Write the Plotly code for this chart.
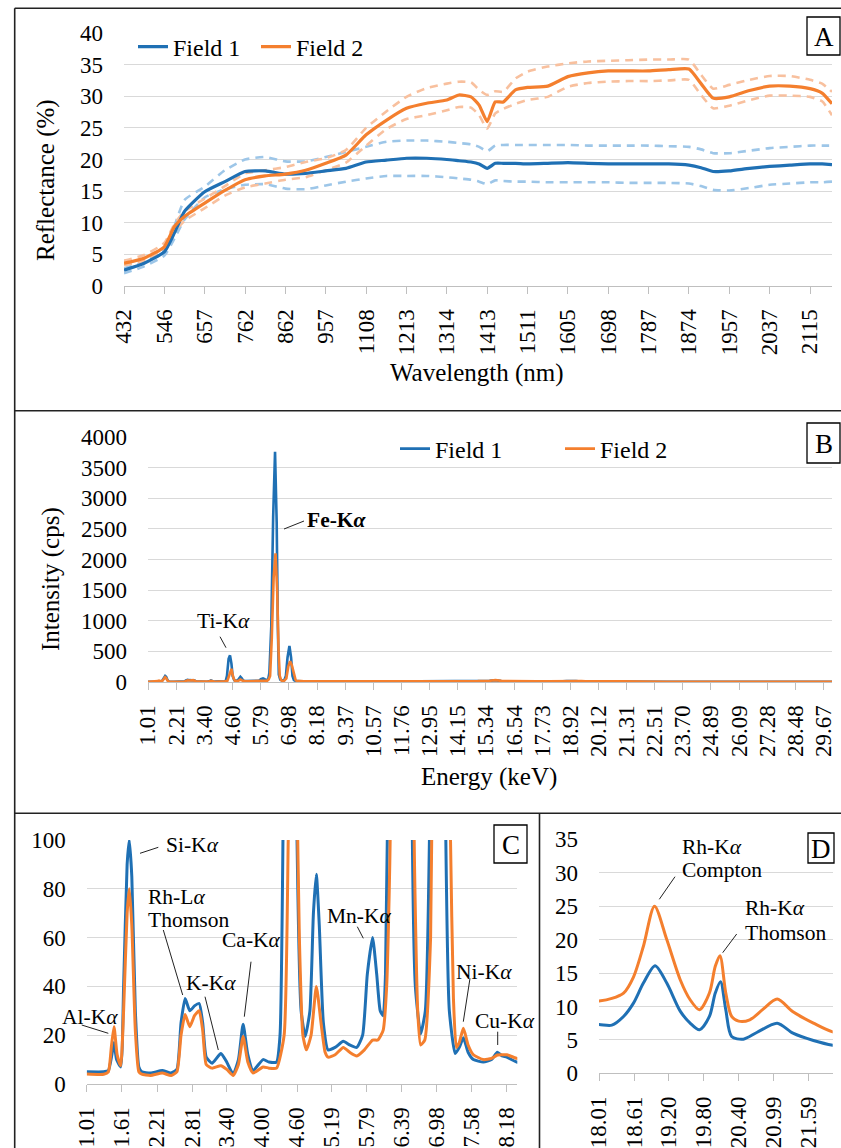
import plotly.graph_objects as go

W, H = 841, 1148
FONT = "Liberation Serif"
BLUE = "#1F70B4"
ORANGE = "#F47F2E"
LBLUE = "#9DC6E8"
LORANGE = "#F8C09E"
GRID = "#D9D9D9"
AXIS = "#BFBFBF"

# ---------------- Panel A : reflectance spectra ----------------
a_tick_labels = ["432", "546", "657", "762", "862", "957", "1108", "1213", "1314",
                 "1413", "1511", "1605", "1698", "1787", "1874", "1957", "2037", "2115"]
a_pos = [0, 0.5, 1, 1.25, 1.5, 2, 2.5, 3, 3.5, 4, 4.5, 5, 5.5, 6, 6.5, 7, 7.5, 8, 8.3,
         8.6, 8.8, 9, 9.2, 9.4, 9.7, 10, 10.5, 11, 11.5, 12, 12.5, 13, 13.5, 14, 14.3,
         14.6, 15, 15.5, 16, 16.5, 17, 17.3, 17.545]
a_field1 = [2.5, 3.6, 5.4, 8.4, 11.8, 14.9, 16.5, 18.1, 18.2, 17.7, 17.8, 18.2, 18.6, 19.6,
            19.9, 20.2, 20.2, 20.0, 19.8, 19.6, 19.3, 18.6, 19.4, 19.4, 19.4, 19.3, 19.4,
            19.5, 19.4, 19.3, 19.3, 19.3, 19.3, 19.1, 18.7, 18.1, 18.2, 18.6, 18.9, 19.1,
            19.3, 19.3, 19.2]
a_field1_hi = [2.8, 3.8, 5.8, 9.5, 13.6, 15.7, 18.3, 20.0, 20.4, 19.7, 19.7, 20.4, 21.2,
               22.0, 22.8, 23.0, 23.0, 22.8, 22.6, 22.4, 22.0, 21.3, 22.2, 22.3, 22.3, 22.3,
               22.3, 22.3, 22.2, 22.2, 22.2, 22.2, 22.1, 22.0, 21.6, 21.0, 21.0, 21.4, 21.8,
               22.0, 22.2, 22.2, 22.2]
a_field1_lo = [2.0, 3.1, 4.8, 7.5, 10.5, 14.0, 15.3, 16.0, 16.1, 15.4, 15.3, 15.9, 16.5,
               17.0, 17.4, 17.4, 17.4, 17.2, 17.0, 16.8, 16.5, 16.1, 16.7, 16.6, 16.5, 16.5,
               16.4, 16.4, 16.4, 16.4, 16.3, 16.3, 16.3, 16.2, 15.8, 15.2, 15.1, 15.5, 16.0,
               16.2, 16.4, 16.4, 16.5]
a_field2 = [3.6, 4.4, 6.2, 9.4, 11.0, 13.1, 15.1, 16.8, 17.4, 17.7, 18.3, 19.4, 20.7, 23.9,
            26.2, 28.1, 28.9, 29.4, 30.2, 29.9, 28.6, 26.0, 29.1, 29.1, 31.0, 31.4, 31.6,
            33.1, 33.7, 34.0, 34.0, 34.0, 34.2, 34.3, 32.0, 29.7, 29.9, 30.9, 31.6, 31.6,
            31.2, 30.5, 28.8]
a_field2_hi = [4.0, 4.9, 6.8, 9.8, 11.8, 13.8, 15.8, 17.8, 18.3, 18.8, 19.6, 20.2, 21.5,
               25.0, 27.6, 29.9, 31.3, 32.0, 32.3, 32.2, 31.0, 30.2, 30.8, 30.7, 32.8, 33.9,
               34.7, 35.2, 35.5, 35.6, 35.7, 35.8, 35.8, 35.8, 33.4, 31.2, 31.8, 32.6, 33.2,
               33.2, 32.6, 32.0, 30.7]
a_field2_lo = [3.3, 4.0, 5.8, 8.5, 10.3, 12.3, 14.3, 15.6, 16.2, 16.8, 17.2, 18.3, 19.5,
               22.2, 24.8, 26.4, 27.0, 27.8, 28.3, 28.2, 27.0, 24.9, 27.3, 28.0, 28.8, 29.4,
               29.9, 31.5, 32.1, 32.3, 32.4, 32.4, 32.5, 32.6, 30.2, 28.1, 28.5, 29.4, 30.1,
               30.1, 29.9, 29.2, 27.0]

# ---------------- XRF spectra (panels B, C, D) ----------------
xrf_e1 = [1.01, 1.30, 1.38, 1.44, 1.476, 1.52, 1.59, 1.64, 1.70, 1.737, 1.78, 1.84, 1.90,
          1.95, 2.10, 2.30, 2.45, 2.55, 2.62, 2.69, 2.77, 2.85, 2.93, 2.99, 3.05, 3.15, 3.30,
          3.40, 3.51, 3.60, 3.68, 3.76, 3.85, 4.02, 4.12, 4.25, 4.31, 4.36, 4.43, 4.49, 4.55,
          4.60, 4.67, 4.74, 4.82, 4.88, 4.93, 4.98, 5.05, 5.13, 5.25, 5.39, 5.50, 5.62, 5.72,
          5.80, 5.89, 5.96, 6.02, 6.07, 6.11, 6.16, 6.24, 6.32, 6.40, 6.47, 6.52, 6.56, 6.62,
          6.71, 6.79, 6.86, 6.93, 7.01, 7.08, 7.14, 7.20, 7.30, 7.37, 7.44, 7.52, 7.61, 7.78,
          7.92, 8.02, 8.10, 8.18, 8.35, 9.0, 10.0, 11.0, 12.0, 13.0, 14.0, 15.0, 15.5, 15.75,
          16.0, 16.5, 17.0, 17.5, 18.01, 18.23, 18.43, 18.60, 18.77, 18.97, 19.17, 19.40,
          19.57, 19.73, 19.90, 20.00, 20.09, 20.18, 20.28, 20.48, 20.71, 21.06, 21.33, 21.68,
          22.01, 23.0, 24.5, 26.0, 28.0, 30.03]
xrf_field1 = [5.0, 5.0, 5.5, 12, 17, 10, 7, 40, 90, 100, 85, 30, 7, 5, 4.5, 5.5, 4.5, 6, 25,
              35, 30, 32, 33, 25, 11, 8.5, 12.5, 9, 4, 10, 24.5, 12, 5.5, 10, 9, 9, 20, 100,
              380, 435, 300, 100, 30, 19.5, 30, 70, 86, 65, 25, 14, 15, 17.5, 16, 15, 20, 45,
              60, 45, 30, 28, 45, 150, 900, 2700, 3760, 2600, 900, 120, 40, 20.5, 30, 100, 400,
              590, 400, 100, 30, 12.5, 15, 19, 13, 10, 9, 10, 13, 11.5, 11, 9, 8, 7, 7, 7, 8, 9,
              12, 18, 28, 15, 10, 8, 7.5, 7.3, 7.2, 8.5, 10.5, 13.5, 16.1, 13.5, 9.3, 7.5, 6.5,
              8.5, 12.0, 13.7, 9.5, 5.5, 5.1, 6.1, 7.5, 6.0, 4.9, 4.2, 3.5, 3.0, 2.5, 2.0, 2.0]
xrf_e2 = [1.01, 1.30, 1.38, 1.43, 1.476, 1.53, 1.59, 1.64, 1.70, 1.737, 1.78, 1.84, 1.90,
          1.95, 2.10, 2.30, 2.45, 2.55, 2.62, 2.69, 2.77, 2.85, 2.93, 2.99, 3.05, 3.15, 3.30,
          3.40, 3.51, 3.60, 3.68, 3.76, 3.85, 4.02, 4.12, 4.25, 4.38, 4.45, 4.50, 4.55, 4.60,
          4.64, 4.70, 4.76, 4.84, 4.93, 5.01, 5.08, 5.13, 5.25, 5.39, 5.50, 5.62, 5.75, 5.89,
          5.98, 6.07, 6.13, 6.19, 6.26, 6.34, 6.42, 6.49, 6.55, 6.60, 6.66, 6.71, 6.78, 6.88,
          6.96, 7.04, 7.11, 7.16, 7.22, 7.27, 7.32, 7.37, 7.44, 7.52, 7.61, 7.78, 7.92, 8.02,
          8.10, 8.18, 8.35, 9.0, 10.0, 11.0, 12.0, 13.0, 14.0, 15.0, 15.5, 15.75, 16.0, 16.5,
          17.0, 17.5, 18.01, 18.23, 18.43, 18.60, 18.77, 18.96, 19.17, 19.40, 19.57, 19.73,
          19.90, 20.00, 20.08, 20.18, 20.28, 20.40, 20.59, 20.82, 21.06, 21.33, 21.68, 22.01,
          23.0, 24.5, 26.0, 28.0, 30.03]
xrf_field2 = [4.1, 4.0, 5, 15, 23.5, 12, 7.5, 30, 70, 80, 65, 22, 5, 4, 3.5, 4.5, 3.5, 5, 20,
              28.5, 23.5, 28, 30, 22, 8, 6.5, 7.5, 6, 3.5, 8, 19.5, 9, 4.5, 7, 6.5, 6.5, 20, 100,
              190, 215, 120, 60, 20, 14, 20, 40, 25, 13, 11, 12, 15, 13, 11.5, 14, 18, 18, 22,
              40, 100, 700, 1700, 2100, 1500, 500, 100, 30, 16, 18, 60, 250, 340, 280, 200, 100,
              35, 15, 17, 22.8, 16, 12, 10, 10.5, 11.9, 12, 12, 10.5, 9.5, 9, 9, 9, 10, 11, 14,
              20, 30, 18, 13, 11, 10.5, 10.8, 11.2, 12.0, 14.4, 19.0, 25.0, 20.0, 14.0, 11.0,
              9.5, 12.0, 16.0, 17.6, 12.0, 8.5, 7.8, 8.0, 9.6, 11.1, 9.2, 7.5, 6.2, 5.0, 4.0,
              3.0, 2.5, 2.3]

b_tick_labels = ["1.01", "2.21", "3.40", "4.60", "5.79", "6.98", "8.18", "9.37", "10.57",
                 "11.76", "12.95", "14.15", "15.34", "16.54", "17.73", "18.92", "20.12",
                 "21.31", "22.51", "23.70", "24.89", "26.09", "27.28", "28.48", "29.67"]
c_tick_labels = ["1.01", "1.61", "2.21", "2.81", "3.40", "4.00", "4.60", "5.19", "5.79",
                 "6.39", "6.98", "7.58", "8.18"]
d_tick_labels = ["18.01", "18.61", "19.20", "19.80", "20.40", "20.99", "21.59"]


def fx(p):
    return p / W


def fy(p):
    return 1 - p / H


fig = go.Figure()

# Panel A traces
for ys, col in [(a_field1_hi, LBLUE), (a_field1_lo, LBLUE), (a_field2_hi, LORANGE), (a_field2_lo, LORANGE)]:
    fig.add_trace(go.Scatter(x=a_pos, y=ys, mode="lines", showlegend=False, hoverinfo="skip",
                             line=dict(color=col, width=2.6, dash="8px,6px", shape="spline", smoothing=0.5),
                             xaxis="x", yaxis="y"))
fig.add_trace(go.Scatter(x=a_pos, y=a_field1, mode="lines", name="Field 1", legend="legend",
                         line=dict(color=BLUE, width=3.2, shape="spline", smoothing=0.5),
                         xaxis="x", yaxis="y"))
fig.add_trace(go.Scatter(x=a_pos, y=a_field2, mode="lines", name="Field 2", legend="legend",
                         line=dict(color=ORANGE, width=3.2, shape="spline", smoothing=0.5),
                         xaxis="x", yaxis="y"))

# Panel B
fig.add_trace(go.Scatter(x=xrf_e1, y=xrf_field1, mode="lines", name="Field 1", legend="legend2",
                         line=dict(color=BLUE, width=2.6), xaxis="x2", yaxis="y2"))
fig.add_trace(go.Scatter(x=xrf_e2, y=xrf_field2, mode="lines", name="Field 2", legend="legend2",
                         line=dict(color=ORANGE, width=2.6), xaxis="x2", yaxis="y2"))
# Panel C
fig.add_trace(go.Scatter(x=xrf_e1, y=xrf_field1, mode="lines", showlegend=False,
                         line=dict(color=BLUE, width=3, shape="spline", smoothing=0.5),
                         xaxis="x3", yaxis="y3"))
fig.add_trace(go.Scatter(x=xrf_e2, y=xrf_field2, mode="lines", showlegend=False,
                         line=dict(color=ORANGE, width=3, shape="spline", smoothing=0.5),
                         xaxis="x3", yaxis="y3"))
# Panel D
fig.add_trace(go.Scatter(x=xrf_e1, y=xrf_field1, mode="lines", showlegend=False,
                         line=dict(color=BLUE, width=3, shape="spline", smoothing=0.8),
                         xaxis="x4", yaxis="y4"))
fig.add_trace(go.Scatter(x=xrf_e2, y=xrf_field2, mode="lines", showlegend=False,
                         line=dict(color=ORANGE, width=3, shape="spline", smoothing=0.8),
                         xaxis="x4", yaxis="y4"))

tickfont = dict(family=FONT, size=23, color="#000")


def xax(dom, rng, vals, texts, anchor):
    return dict(domain=[fx(dom[0]), fx(dom[1])], range=rng, anchor=anchor, automargin=False,
                tickmode="array", tickvals=vals, ticktext=texts, tickangle=-90,
                showline=True, linecolor=AXIS, linewidth=1, ticks="outside", ticklen=7,
                tickcolor=AXIS, tickwidth=1, showgrid=False, zeroline=False,
                tickfont=tickfont, ticklabelstandoff=6, fixedrange=True)


def yax(dom, rng, dtick, anchor):
    return dict(domain=[fy(dom[1]), fy(dom[0])], range=rng, anchor=anchor, dtick=dtick,
                automargin=False, tick0=0, showgrid=True, gridcolor=GRID, gridwidth=1,
                showline=False, zeroline=False, ticks="", tickfont=tickfont,
                ticklabelstandoff=20, fixedrange=True)


layout = dict(
    template="none",
    width=W, height=H, margin=dict(l=0, r=0, t=0, b=0, autoexpand=False),
    paper_bgcolor="white", plot_bgcolor="white",
    font=dict(family=FONT, color="#000"),
    xaxis=xax((124, 832), [0, 17.545], list(range(len(a_tick_labels))), a_tick_labels, "y"),
    yaxis=yax((33, 286), [0, 40], 5, "x"),
    xaxis2=xax((148, 832), [1.01, 30.03], [float(t) for t in b_tick_labels], b_tick_labels, "y2"),
    yaxis2=yax((437, 682), [0, 4000], 500, "x2"),
    xaxis3=xax((86.7, 517.3), [1.01, 8.36], [float(t) for t in c_tick_labels], c_tick_labels, "y3"),
    yaxis3=yax((840, 1084), [0, 100], 20, "x3"),
    xaxis4=xax((599, 832.7), [18.01, 22.01], [float(t) for t in d_tick_labels], d_tick_labels, "y4"),
    yaxis4=yax((839.3, 1073.3), [0, 35], 5, "x4"),
    legend=dict(orientation="h", x=fx(133), y=fy(47), xanchor="left", yanchor="middle",
                font=dict(family=FONT, size=24, color="#000"), bgcolor="rgba(0,0,0,0)",
                entrywidth=78, itemwidth=30),
    legend2=dict(orientation="h", x=fx(395), y=fy(449), xanchor="left", yanchor="middle",
                 font=dict(family=FONT, size=24, color="#000"), bgcolor="rgba(0,0,0,0)",
                 entrywidth=120, itemwidth=30),
)
fig.update_layout(**layout)

shapes = []
ann = []
FRAME = "#222222"
# panel frames
for (x0, y0, x1, y1) in [(14.7, 8.3, 843, 8.3), (14.7, 8.3, 14.7, 1150), (14.7, 410.8, 843, 410.8),
                         (14.7, 813.3, 843, 813.3), (539.5, 813.3, 539.5, 1150)]:
    shapes.append(dict(type="line", xref="paper", yref="paper", x0=fx(x0), y0=fy(y0),
                       x1=fx(x1), y1=fy(y1), line=dict(color=FRAME, width=1.6)))
# panel letters
for letter, (x0, y0, x1, y1) in [("A", (807, 17, 840, 55)), ("B", (807, 423, 840, 463)),
                                 ("C", (494, 825, 527, 863)), ("D", (808, 833, 834, 863))]:
    shapes.append(dict(type="rect", xref="paper", yref="paper", x0=fx(x0), y0=fy(y0),
                       x1=fx(x1), y1=fy(y1), line=dict(color="#000", width=1.3)))
    ann.append(dict(text=letter, xref="paper", yref="paper", x=fx((x0 + x1) / 2),
                    y=fy((y0 + y1) / 2 + 1), xanchor="center", yanchor="middle",
                    showarrow=False, font=dict(family=FONT, size=27, color="#000")))

# axis titles
ann.append(dict(text="Reflectance (%)", xref="paper", yref="paper", x=fx(46), y=fy(180),
                textangle=-90, xanchor="center", yanchor="middle", showarrow=False,
                font=dict(family=FONT, size=25, color="#000")))
ann.append(dict(text="Wavelength (nm)", xref="paper", yref="paper", x=fx(477), y=fy(373),
                xanchor="center", yanchor="middle", showarrow=False,
                font=dict(family=FONT, size=25, color="#000")))
ann.append(dict(text="Intensity (cps)", xref="paper", yref="paper", x=fx(51), y=fy(579),
                textangle=-90, xanchor="center", yanchor="middle", showarrow=False,
                font=dict(family=FONT, size=25, color="#000")))
ann.append(dict(text="Energy (keV)", xref="paper", yref="paper", x=fx(489), y=fy(777),
                xanchor="center", yanchor="middle", showarrow=False,
                font=dict(family=FONT, size=25, color="#000")))

# peak labels: (text, x, y, anchor)
labels = [
    ("<b>Fe-K<i>α</i></b>", 337, 520, "center"),
    ("Ti-K<i>α</i>", 223, 621, "center"),
    ("Si-K<i>α</i>", 192, 845, "center"),
    ("Rh-L<i>α</i>", 146, 897, "left"),
    ("Thomson", 146, 920, "left"),
    ("K-K<i>α</i>", 211, 983, "center"),
    ("Ca-K<i>α</i>", 251, 940, "center"),
    ("Al-K<i>α</i>", 90, 1017, "center"),
    ("Mn-K<i>α</i>", 359, 916, "center"),
    ("Ni-K<i>α</i>", 484, 972, "center"),
    ("Cu-K<i>α</i>", 505, 1021, "center"),
    ("Rh-K<i>α</i>", 680, 847, "left"),
    ("Compton", 680, 870, "left"),
    ("Rh-K<i>α</i>", 743, 908, "left"),
    ("Thomson", 743, 933, "left"),
]
for t, x, y, anc in labels:
    ann.append(dict(text=t, xref="paper", yref="paper", x=fx(x), y=fy(y), xanchor=anc,
                    yanchor="middle", showarrow=False,
                    font=dict(family=FONT, size=21.5, color="#000")))

leaders = [
    (284, 529, 304, 521), (220, 636.7, 226, 647.7), (140, 853.3, 158.3, 847.3),
    (163.3, 930, 182.7, 995), (205, 996.7, 218.3, 1050), (251, 961.7, 244.3, 1016.7),
    (81.7, 1025, 108.3, 1033.3), (357.3, 926.7, 363.3, 938.3), (470, 978.3, 463.3, 1021.7),
    (497.7, 1031.7, 497.7, 1045), (675, 876.7, 659.3, 899.3), (736.7, 934, 722.7, 952.7),
]
for x0, y0, x1, y1 in leaders:
    shapes.append(dict(type="line", xref="paper", yref="paper", x0=fx(x0), y0=fy(y0),
                       x1=fx(x1), y1=fy(y1), line=dict(color="#222", width=1)))

fig.update_layout(shapes=shapes, annotations=ann)
fig.write_html("out.html")
